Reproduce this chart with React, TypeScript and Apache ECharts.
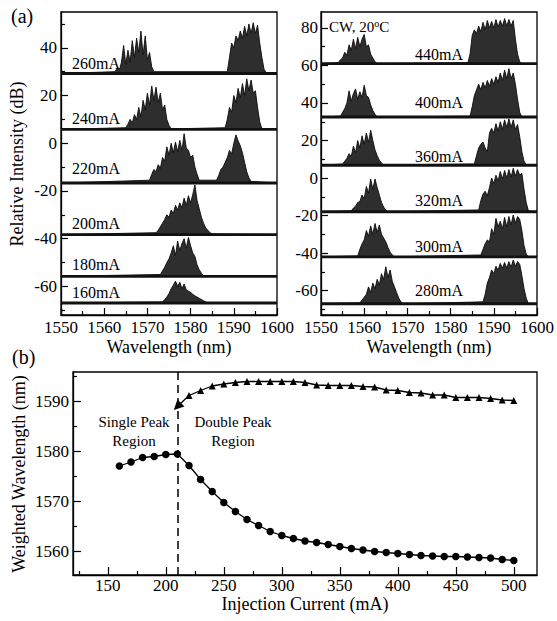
import React, { useEffect, useRef } from "react";
import * as echarts from "echarts";

const FONT = "Liberation Serif";
const STEP = 0.5; // nm between read samples

// ---------- Panel (a), left: spectra (dB), baselines and lumps ----------
const leftLabels = ["260mA", "240mA", "220mA", "200mA", "180mA", "160mA"];
const leftBaselines = [29.2, 5.8, -16.7, -38.3, -55.8, -67];

const l260A_start = 1562.5;
const l260A = [30, 31.5, 30.5, 34, 41, 33, 39, 34, 43, 36, 44, 38, 47, 37, 45, 35, 38, 32, 30];
const l260B_start = 1588.5;
const l260B = [30, 36, 42, 40, 45, 43, 47, 44, 49, 45, 50, 46, 50.5, 46, 49.5, 42, 36, 31, 29.5];

const l240A_start = 1565;
const l240A = [6.5, 8, 10, 8.5, 12, 10, 15, 11, 18, 14, 21, 16, 24, 18, 23.5, 17, 21, 14, 16, 10, 7.5, 6];
const l240B_start = 1588;
const l240B = [6.5, 10, 15, 13, 20, 17, 23, 19, 25, 20, 27, 22, 26.5, 21, 22, 15, 9, 6];

const l220A_start = 1570.5;
const l220A = [-15.5, -13, -11, -12, -9, -10.5, -6, -7.5, -1.5, -5, 0, -4, 0.5, -3.5, 1.2, -3, 4, -2, -3, -6, -5, -10, -13, -15.5];
const l220B_start = 1586;
const l220B = [-15.5, -13.5, -11, -10, -8, -6, -3, -4.5, 0, 3.5, 1, -1, -4, -8, -12, -14.5, -16];

const l200A_start = 1572;
const l200A = [-37.5, -36.5, -35, -33.5, -32, -30, -31, -28, -29.5, -26, -28, -25, -27, -23, -26, -22, -25, -21.5, -17.5, -24, -27.5, -31, -33.5, -35.5, -36.5, -37.5, -38];

const l180A_start = 1573;
const l180A = [-55, -53.5, -52, -50, -48.5, -46, -43, -47, -41, -45, -42, -40, -44, -39.5, -43, -46, -47.5, -51, -53, -54.5, -55.5];

const l160A_start = 1573.5;
const l160A = [-66.5, -65.5, -64.5, -63, -61, -59.5, -57.8, -60, -58.3, -61, -59, -61.5, -62, -62.5, -63.3, -64, -64.5, -65, -65.5, -66, -66.5, -67];

// ---------- Panel (a), right ----------
const rightLabels = ["440mA", "400mA", "360mA", "320mA", "300mA", "280mA"];
const rightBaselines = [61, 32.5, 6.8, -18, -42, -67];

const r440A_start = 1554;
const r440A = [61.5, 63, 64, 67, 65.5, 71, 68, 74, 69, 75, 70, 74, 76.5, 70, 71, 66, 64, 62, 61];
const r440B_start = 1584;
const r440B = [61.5, 66, 76, 79, 77, 81, 78, 83, 79, 84, 80, 83.5, 80, 84.5, 80.5, 84, 81, 85, 81, 84.5, 81, 84, 74, 66, 62, 61];

const r400A_start = 1554.5;
const r400A = [33, 35, 37, 40, 46.5, 41, 45, 47.5, 42, 46, 43, 49.5, 44, 43, 39, 36, 34, 32.5];
const r400B_start = 1584.5;
const r400B = [33, 38, 44, 47, 50, 47, 51, 48, 52, 49, 53, 50, 54, 51, 56, 52, 57.5, 53, 58.3, 53, 56, 50, 42, 35, 32.5];

const r360A_start = 1555;
const r360A = [7.5, 9, 10.5, 13, 11.5, 17, 13.5, 20, 16, 22.5, 18, 24, 19, 25.5, 20, 15, 12, 9.5, 8, 7];
const r360B_start = 1585.5;
const r360B = [7.5, 12, 16, 18, 19.2, 16, 14, 24, 26.5, 24, 29, 25, 30, 26, 31, 27, 31.5, 27, 31, 26, 28.5, 22, 14, 9, 7];

const r320A_start = 1557;
const r320A = [-17.5, -16, -15, -13, -12.5, -9, -11, -4.5, -8, -0.5, -6, -0.5, -5, -9, -13, -15.5, -17, -18];
const r320B_start = 1586.5;
const r320B = [-17, -12, -8.5, -7, -9.5, -5, 0, -3, 1.5, -1.5, 3.5, -0.5, 4, 0, 4.5, 0.5, 5.2, 1, 4.5, 1.5, 2.5, -6, -13, -17.5];

const r300A_start = 1558.5;
const r300A = [-41.5, -38, -35, -33, -28, -31, -25.5, -30, -24.2, -29, -25, -30, -32, -34, -37, -39.5, -41, -42];
const r300B_start = 1587;
const r300B = [-41, -38, -35, -33, -34, -27, -30, -21.5, -26, -23, -27, -21, -26, -20.5, -25, -19.7, -24, -20.5, -22, -28, -36, -40.5, -42];

const r280A_start = 1559;
const r280A = [-66.5, -65, -63.5, -62, -58, -61, -56, -59, -54, -57, -51, -54, -47.3, -53, -49, -55, -58, -61, -64, -66, -67];
const r280B_start = 1587.5;
const r280B = [-66, -62, -56, -53, -49, -51, -47, -49, -45.5, -48, -45, -48, -44.6, -47.5, -43.7, -47, -44.5, -46, -52, -59, -64, -67];

// ---------- Panel (b): weighted wavelength vs current ----------
const circleCurrents = [160, 170, 180, 190, 200, 210, 220, 230, 240, 250, 260, 270, 280, 290, 300, 310, 320, 330, 340, 350, 360, 370, 380, 390, 400, 410, 420, 430, 440, 450, 460, 470, 480, 490, 500];
const circleWavelengths = [1577.0, 1577.8, 1578.7, 1578.9, 1579.3, 1579.4, 1577.1, 1574.3, 1571.9, 1569.7, 1567.9, 1566.3, 1565.1, 1563.9, 1563.1, 1562.5, 1562.0, 1561.7, 1561.3, 1560.9, 1560.5, 1560.2, 1559.9, 1559.7, 1559.5, 1559.3, 1559.1, 1559.0, 1558.9, 1558.9, 1558.8, 1558.7, 1558.6, 1558.3, 1558.1];
const triangleCurrents = [210, 220, 230, 240, 250, 260, 270, 280, 290, 300, 310, 320, 330, 340, 350, 360, 370, 380, 390, 400, 410, 420, 430, 440, 450, 460, 470, 480, 490, 500];
const triangleWavelengths = [1588.9, 1591.1, 1592.1, 1593.0, 1593.4, 1593.7, 1593.9, 1593.9, 1593.9, 1593.9, 1593.9, 1593.7, 1593.2, 1593.1, 1593.1, 1593.1, 1592.9, 1592.8, 1592.2, 1592.1, 1591.7, 1591.6, 1591.2, 1591.2, 1590.7, 1590.7, 1590.7, 1590.5, 1590.2, 1590.1];
const boundaryCurrent = 210;

// tick values
const topXMin = 1550;
const topXMax = 1600;
const leftYMajor = [-60, -40, -20, 0, 20, 40];
const leftYMinor = [-70, -50, -30, -10, 10, 30, 50];
const rightYMajor = [-60, -40, -20, 0, 20, 40, 60, 80];
const rightYMinor = [-70, -50, -30, -10, 10, 30, 50, 70];
const bottomXMajor = [150, 200, 250, 300, 350, 400, 450, 500];
const bottomXMinor = [125, 175, 225, 275, 325, 375, 425, 475];
const bottomYMajor = [1560, 1570, 1580, 1590];
const bottomYMinor = [1565, 1575, 1585, 1595];

const leftLumps: [number, number[]][][] = [
  [[l260A_start, l260A], [l260B_start, l260B]],
  [[l240A_start, l240A], [l240B_start, l240B]],
  [[l220A_start, l220A], [l220B_start, l220B]],
  [[l200A_start, l200A]],
  [[l180A_start, l180A]],
  [[l160A_start, l160A]],
];
const rightLumps: [number, number[]][][] = [
  [[r440A_start, r440A], [r440B_start, r440B]],
  [[r400A_start, r400A], [r400B_start, r400B]],
  [[r360A_start, r360A], [r360B_start, r360B]],
  [[r320A_start, r320A], [r320B_start, r320B]],
  [[r300A_start, r300A], [r300B_start, r300B]],
  [[r280A_start, r280A], [r280B_start, r280B]],
];

function spectrumData(base: number, lumps: [number, number[]][]) {
  const pts: number[][] = [[topXMin, base]];
  lumps.forEach(([start, vals]) => {
    vals.forEach((v, i) => pts.push([start + i * STEP, v]));
  });
  pts.push([topXMax, base]);
  return pts;
}

function spectrumSeries(xi: number, yi: number, bases: number[], lumps: [number, number[]][][]) {
  const out: any[] = [];
  bases.forEach((b, k) => {
    out.push({
      type: "line",
      xAxisIndex: xi,
      yAxisIndex: yi,
      data: spectrumData(b, lumps[k]),
      showSymbol: false,
      symbol: "none",
      lineStyle: { color: "#0c0c0c", width: 0.9 },
      areaStyle: { color: "#2e2e2e", opacity: 1, origin: b },
      z: 2,
    });
    out.push({
      type: "line",
      xAxisIndex: xi,
      yAxisIndex: yi,
      data: [[topXMin, b], [topXMax, b]],
      showSymbol: false,
      symbol: "none",
      lineStyle: { color: "#111", width: 2.9 },
      z: 3,
    });
  });
  return out;
}

const plain = (v: number) => String(v);
const axisLineStyle = { show: true, onZero: false, lineStyle: { color: "#000", width: 1.3 } };
const tickLine = { color: "#000", width: 1.2 };
const labelBase = { color: "#000", fontSize: 17, fontFamily: FONT, formatter: plain };

function topX(g: number) {
  return {
    gridIndex: g,
    type: "value",
    position: "bottom",
    min: topXMin,
    max: topXMax,
    interval: 10,
    axisLine: axisLineStyle,
    axisTick: { show: true, inside: true, length: 7, lineStyle: tickLine },
    minorTick: { show: true, splitNumber: 2, length: 4, lineStyle: tickLine },
    axisLabel: { ...labelBase, margin: 4 },
    splitLine: { show: false },
    minorSplitLine: { show: false },
  };
}

function majorAxis(g: number, pos: string, min: number, max: number, vals: number[], margin: number, len: number) {
  return {
    gridIndex: g,
    type: "value",
    position: pos,
    min,
    max,
    axisLine: axisLineStyle,
    axisTick: { show: true, inside: true, length: len, lineStyle: tickLine, customValues: vals },
    axisLabel: { ...labelBase, margin, customValues: vals },
    splitLine: { show: false },
  };
}
function minorAxis(g: number, pos: string, min: number, max: number, vals: number[], len: number) {
  return {
    gridIndex: g,
    type: "value",
    position: pos,
    min,
    max,
    axisLine: { show: false },
    axisTick: { show: true, inside: true, length: len, lineStyle: tickLine, customValues: vals },
    axisLabel: { show: false, customValues: vals },
    splitLine: { show: false },
  };
}

function txt(text: string, x: number, y: number, size: number, align = "left", rotation = 0) {
  return {
    type: "text",
    x,
    y,
    rotation,
    z: 100,
    style: { text, fill: "#000", fontSize: size, fontFamily: FONT, align, verticalAlign: "middle" },
  };
}

function buildOption() {
  const leftLabelY = [63.7, 118.7, 168.3, 223.3, 264, 292.3];
  const rightLabelY = [54.3, 102.7, 156, 200.7, 246.7, 290];
  const graphics: any[] = [];
  leftLabels.forEach((t, i) => graphics.push(txt(t, 72, leftLabelY[i], 16)));
  rightLabels.forEach((t, i) => graphics.push(txt(t, 415, rightLabelY[i], 16)));
  graphics.push(txt("(a)", 11, 16, 20));
  graphics.push(txt("(b)", 12, 357, 20));
  graphics.push({
    type: "text",
    x: 329,
    y: 27,
    z: 100,
    style: {
      text: "{n|CW, 20}{s|o}{n|C}",
      verticalAlign: "middle",
      rich: {
        n: { fontSize: 15, fontFamily: FONT, fill: "#000" },
        s: { fontSize: 10, fontFamily: FONT, fill: "#000", padding: [0, 0, 8, 0] },
      },
    },
  });
  graphics.push(txt("Relative Intensity (dB)", 17, 164, 18, "center", Math.PI / 2));
  graphics.push(txt("Wavelength (nm)", 169, 347, 18, "center"));
  graphics.push(txt("Wavelength (nm)", 429, 347, 18, "center"));
  graphics.push(txt("Weighted Wavelength (nm)", 19, 474, 18, "center", Math.PI / 2));
  graphics.push(txt("Injection Current (mA)", 305, 604, 18, "center"));
  graphics.push(txt("Single Peak", 134, 422, 15, "center"));
  graphics.push(txt("Region", 134, 441, 15, "center"));
  graphics.push(txt("Double Peak", 233, 422, 15, "center"));
  graphics.push(txt("Region", 233, 441, 15, "center"));

  const gridBase = { show: true, borderColor: "#000", borderWidth: 1.3, backgroundColor: "transparent", containLabel: false, outerBoundsMode: "none" };

  return {
    animation: false,
    backgroundColor: "#fff",
    textStyle: { fontFamily: FONT },
    grid: [
      { ...gridBase, left: 61, top: 12, width: 216, height: 303 },
      { ...gridBase, left: 321, top: 12, width: 216, height: 303 },
      { ...gridBase, left: 73, top: 372, width: 464, height: 203 },
    ],
    xAxis: [
      topX(0),
      topX(1),
      majorAxis(2, "bottom", 120, 520, bottomXMajor, 2, 8),
      minorAxis(2, "bottom", 120, 520, bottomXMinor, 4),
    ],
    yAxis: [
      majorAxis(0, "left", -72, 55, leftYMajor, 4, 7),
      minorAxis(0, "left", -72, 55, leftYMinor, 4),
      majorAxis(1, "left", -73, 88.5, rightYMajor, 3, 7),
      minorAxis(1, "left", -73, 88.5, rightYMinor, 4),
      majorAxis(2, "left", 1555.2, 1595.8, bottomYMajor, 4, 8),
      minorAxis(2, "left", 1555.2, 1595.8, bottomYMinor, 4),
    ],
    graphic: graphics,
    series: [
      ...spectrumSeries(0, 0, leftBaselines, leftLumps),
      ...spectrumSeries(1, 2, rightBaselines, rightLumps),
      {
        type: "line",
        xAxisIndex: 2,
        yAxisIndex: 4,
        data: circleCurrents.map((c, i) => [c, circleWavelengths[i]]),
        symbol: "circle",
        symbolSize: 7.5,
        showSymbol: true,
        itemStyle: { color: "#000" },
        lineStyle: { color: "#000", width: 1.3 },
        markLine: {
          silent: true,
          symbol: "none",
          label: { show: false },
          lineStyle: { color: "#000", width: 1.5, type: [8, 5] },
          data: [{ xAxis: boundaryCurrent }],
        },
        z: 5,
      },
      {
        type: "line",
        xAxisIndex: 2,
        yAxisIndex: 4,
        data: triangleCurrents.map((c, i) =>
          i === 0 ? { value: [c, triangleWavelengths[i]], symbolRotate: 135, symbolSize: 10 } : [c, triangleWavelengths[i]]
        ),
        symbol: "triangle",
        symbolSize: 7,
        showSymbol: true,
        itemStyle: { color: "#000" },
        lineStyle: { color: "#000", width: 1.3 },
        z: 5,
      },
    ],
  };
}

export default function App() {
  const ref = useRef<HTMLDivElement>(null);
  useEffect(() => {
    if (!ref.current) return;
    const chart = echarts.init(ref.current, undefined, { renderer: "svg" });
    chart.setOption(buildOption() as any);
    return () => chart.dispose();
  }, []);
  return (
    <div
      ref={ref}
      style={{ position: "fixed", left: 0, top: 0, width: 557, height: 621, background: "#fff" }}
    />
  );
}
